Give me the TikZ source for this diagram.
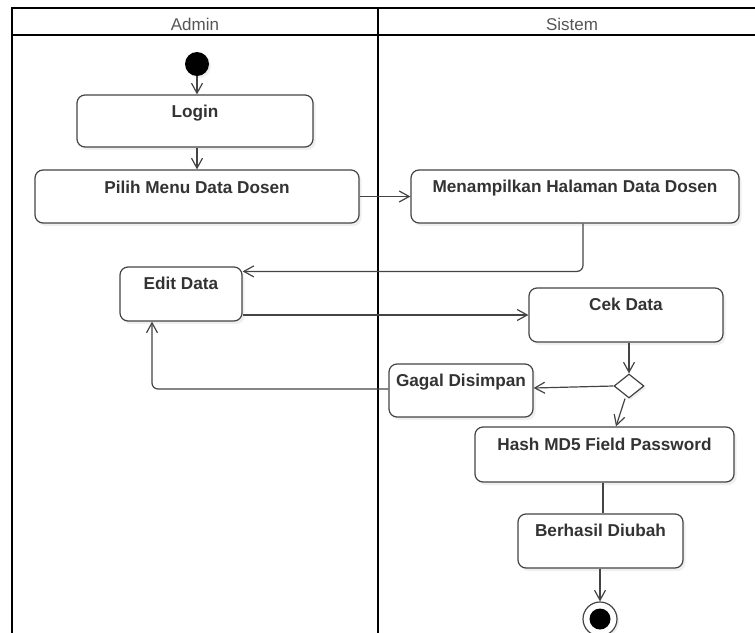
\documentclass[tikz,border=0pt]{standalone}
\usepackage{fontspec}
\setmainfont{Liberation Sans}
\usetikzlibrary{arrows.meta,shapes.geometric,shadows}
\definecolor{linec}{HTML}{444444}
\definecolor{textc}{HTML}{333333}
\definecolor{headc}{HTML}{555555}
\begin{document}
\begin{tikzpicture}[x=1pt,y=-1pt,
  act/.style={draw=linec, line width=1.2pt, rounded corners=8pt, fill=white,
    drop shadow={shadow xshift=2.5pt,shadow yshift=-3pt,opacity=0.12}, inner sep=0pt},
  lbl/.style={font=\bfseries\fontsize{17.2}{20}\selectfont, text=textc, anchor=base, inner sep=0pt},
  hdr/.style={font=\fontsize{17}{20}\selectfont, text=headc, anchor=base, inner sep=0pt},
  flow/.style={draw=linec, line width=1.2pt, -{Straight Barb[length=10pt,width=11pt,line width=1.2pt]}},
  lane/.style={line width=2.2pt, draw=black}]
\useasboundingbox (0,0) rectangle (755,632);
\fill[white] (0,0) rectangle (755,632);
% swimlanes
\draw[lane] (760,8) -- (12,8) -- (12,640);
\draw[lane] (12,35) -- (760,35);
\draw[lane] (378,8) -- (378,640);
\node[hdr] (hadmin) at (195,30) {Admin};
\node[hdr] (hsistem) at (572,30) {Sistem};
% nodes
\node[circle, fill=black, minimum size=24pt, inner sep=0pt,
  drop shadow={shadow xshift=2pt,shadow yshift=-2pt,opacity=0.12}] (start) at (197,64) {};
\node[act, minimum width=236pt, minimum height=52pt] (login) at (195,121) {};
\node[act, minimum width=324pt, minimum height=53pt] (pilih) at (197,196.5) {};
\node[act, minimum width=328pt, minimum height=53pt] (menam) at (575,196.5) {};
\node[act, minimum width=122pt, minimum height=54pt] (edit) at (181,294) {};
\node[act, minimum width=194pt, minimum height=54pt] (cek) at (626,315) {};
\node[diamond, draw=linec, line width=1.2pt, fill=white, minimum width=30pt, minimum height=24pt, inner sep=0pt,
  drop shadow={shadow xshift=2pt,shadow yshift=-2pt,opacity=0.12}] (dec) at (629,386) {};
\node[act, minimum width=144pt, minimum height=53pt] (gagal) at (461,390.5) {};
\node[act, minimum width=259pt, minimum height=55pt] (hash) at (604.5,454.5) {};
\node[act, minimum width=165pt, minimum height=54pt] (berhasil) at (600.5,541) {};
\node[circle, draw=linec, line width=1.2pt, fill=white, minimum size=34pt, inner sep=0pt,
  drop shadow={shadow xshift=2pt,shadow yshift=-2pt,opacity=0.12}] (endo) at (600,619) {};
\node[circle, fill=black, minimum size=21pt, inner sep=0pt] (endi) at (600,619) {};
% labels
\node[lbl] (tlogin) at ([yshift=-23.5pt]login.north) {Login};
\node[lbl] (tpilih) at ([yshift=-24pt]pilih.north) {Pilih Menu Data Dosen};
\node[lbl] (tmenam) at ([yshift=-23.5pt]menam.north) {Menampilkan Halaman Data Dosen};
\node[lbl] (tedit) at ([yshift=-23.5pt]edit.north) {Edit Data};
\node[lbl] (tcek) at ([yshift=-23.5pt]cek.north) {Cek Data};
\node[lbl] (tgagal) at ([yshift=-23.5pt]gagal.north) {Gagal Disimpan};
\node[lbl] (thash) at ([yshift=-24pt]hash.north) {Hash MD5 Field Password};
\node[lbl] (tberhasil) at ([yshift=-23.5pt]berhasil.north) {Berhasil Diubah};
% connectors
\draw[flow] (start.south) -- (start.south |- login.north);
\draw[flow] (login.south -| start) -- (pilih.north -| start);
\draw[flow] (pilih.east) -- (menam.west);
\draw[flow, rounded corners=6pt] ([xshift=8pt]menam.south) |- ([yshift=-5pt]edit.north east);
\draw[flow] (cek.west -| edit.east) -- (cek.west);
\draw[flow] ([xshift=3pt]cek.south) -- (dec.north);
\draw[flow] (dec.west) -- ([yshift=2.5pt]gagal.east);
\draw[flow, rounded corners=6pt] ([yshift=1.5pt]gagal.west) -| ([xshift=-29pt]edit.south);
\draw[flow] ([xshift=-4pt]dec.south) -- ([xshift=11.5pt]hash.north);
\draw[draw=linec, line width=1.2pt] ([xshift=-1.5pt]hash.south) -- ([xshift=2.5pt]berhasil.north);
\draw[flow] ([xshift=-0.5pt]berhasil.south) -- (endo.north);
\end{tikzpicture}
\end{document}
